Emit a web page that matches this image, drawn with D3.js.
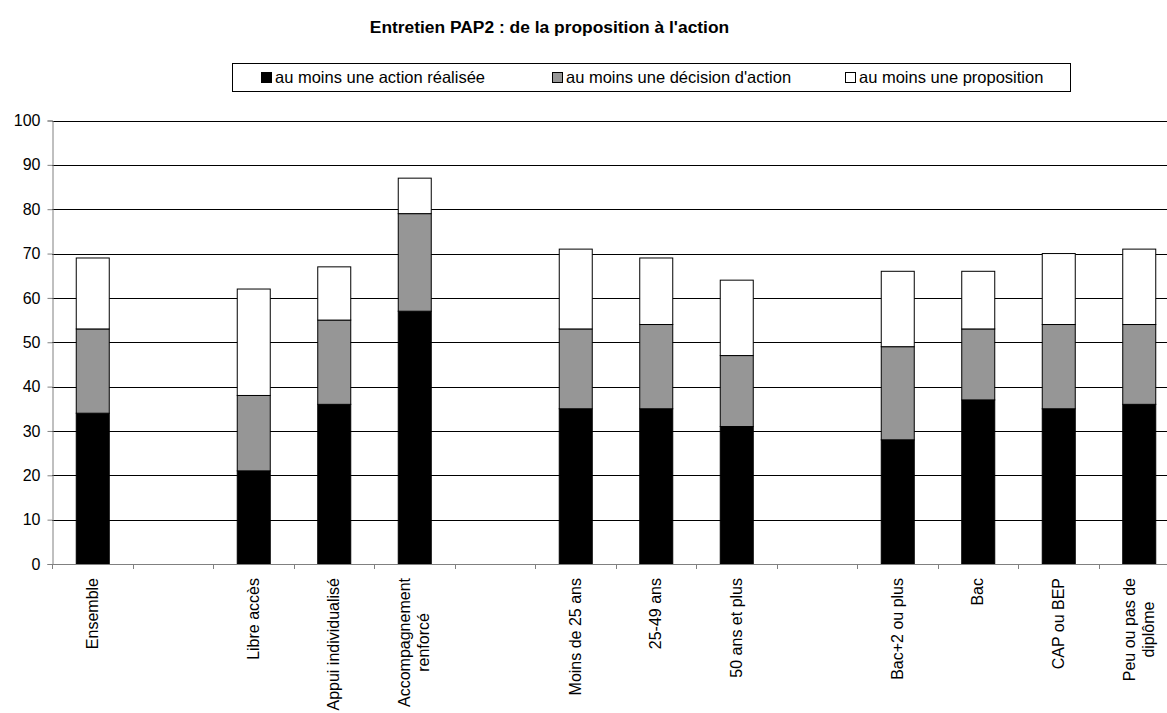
<!DOCTYPE html>
<html>
<head>
<meta charset="utf-8">
<script src="https://cdn.jsdelivr.net/npm/d3@7"></script>
<style>
  html, body { margin: 0; padding: 0; background: #fff; }
  svg { display: block; font-family: "Liberation Sans", Arial, sans-serif; }
</style>
</head>
<body>
<svg id="chart" width="1167" height="713"></svg>
<script>
// Categories (empty strings are spacer slots between groups)
const categories = [
  "Ensemble", "", "Libre accès", "Appui individualisé", "Accompagnement\nrenforcé", "",
  "Moins de 25 ans", "25-49 ans", "50 ans et plus", "",
  "Bac+2 ou plus", "Bac", "CAP ou BEP", "Peu ou pas de\ndiplôme"
];
// Cumulative shares (%) — each level includes the one below it
const actionRealisee = [34, null, 21, 36, 57, null, 35, 35, 31, null, 28, 37, 35, 36];
const decisionAction = [53, null, 38, 55, 79, null, 53, 54, 47, null, 49, 53, 54, 54];
const proposition    = [69, null, 62, 67, 87, null, 71, 69, 64, null, 66, 66, 70, 71];

const seriesNames = ["au moins une action réalisée", "au moins une décision d'action", "au moins une proposition"];
const seriesColors = ["#000000", "#969696", "#ffffff"];
const yTicks = [0, 10, 20, 30, 40, 50, 60, 70, 80, 90, 100];
const title = "Entretien PAP2 : de la proposition à l'action";

const svg = d3.select("#chart");
const plotLeft = 52, plotRight = 1179, plotTop = 120.5, plotBottom = 564;

const x = d3.scaleBand()
  .domain(d3.range(categories.length))
  .range([plotLeft, plotRight])
  .paddingInner(0.59)
  .paddingOuter(0.295);
const slot = d3.scaleLinear().domain([0, categories.length]).range([plotLeft, plotRight]);
const y = d3.scaleLinear().domain([0, 100]).range([plotBottom, plotTop]);

// Title
svg.append("text")
  .attr("x", 549.5).attr("y", 33)
  .attr("text-anchor", "middle")
  .attr("font-size", 17.4).attr("font-weight", "bold")
  .text(title);

// Gridlines
svg.append("g")
  .selectAll("line")
  .data(yTicks.filter(d => d > 0))
  .join("line")
  .attr("x1", plotLeft).attr("x2", plotRight)
  .attr("y1", d => Math.round(y(d)) + 0.5).attr("y2", d => Math.round(y(d)) + 0.5)
  .attr("stroke", "#000").attr("stroke-width", 1);

// Stacked bars
const series = [actionRealisee, decisionAction, proposition];
series.forEach((vals, si) => {
  svg.append("g")
    .selectAll("rect")
    .data(vals.map((v, i) => ({ i, v, lo: si === 0 ? 0 : series[si - 1][i] })).filter(d => d.v != null))
    .join("rect")
    .attr("x", d => x(d.i) + 0.5)
    .attr("width", x.bandwidth())
    .attr("y", d => y(d.v))
    .attr("height", d => y(d.lo) - y(d.v))
    .attr("fill", seriesColors[si])
    .attr("stroke", "#000").attr("stroke-width", 1);
});

// Y axis
const yAxis = svg.append("g")
  .attr("transform", `translate(${plotLeft + 0.5},0)`)
  .call(d3.axisLeft(y).tickValues(yTicks).tickSize(5).tickPadding(7).tickFormat(d3.format("d")));
yAxis.select(".domain").attr("stroke", "#808080");
yAxis.selectAll(".tick line").attr("stroke", "#808080");
yAxis.selectAll(".tick text").attr("font-size", 16).attr("fill", "#000")
  .attr("font-family", "Liberation Sans, Arial, sans-serif");

// X axis line and slot ticks
const xAxis = svg.append("g");
xAxis.append("line")
  .attr("x1", plotLeft).attr("x2", plotRight)
  .attr("y1", plotBottom + 0.5).attr("y2", plotBottom + 0.5)
  .attr("stroke", "#808080");
xAxis.selectAll("line.tk")
  .data(d3.range(categories.length + 1))
  .join("line").attr("class", "tk")
  .attr("x1", d => Math.round(slot(d)) + 0.5).attr("x2", d => Math.round(slot(d)) + 0.5)
  .attr("y1", plotBottom).attr("y2", plotBottom + 5)
  .attr("stroke", "#808080");

// Rotated category labels
const labelTop = 578, lineGap = 19;
categories.forEach((c, i) => {
  if (!c) return;
  const lines = c.split("\n");
  const cx = x(i) + x.bandwidth() / 2;
  const g = svg.append("g").attr("transform", `translate(${cx},${labelTop}) rotate(-90)`);
  const t = g.selectAll("text").data(lines).join("text")
    .attr("font-size", 16)
    .attr("y", (d, k) => (k - (lines.length - 1) / 2) * lineGap)
    .attr("dy", "0.35em")
    .text(d => d);
  // lines are centred on each other, block hangs from the axis
  const w = d3.max(t.nodes(), n => n.getComputedTextLength());
  t.attr("text-anchor", "middle").attr("x", -w / 2);
});

// Legend
const legend = svg.append("g");
legend.append("rect")
  .attr("x", 232.5).attr("y", 63.5).attr("width", 838).attr("height", 28)
  .attr("fill", "#fff").attr("stroke", "#000");
const legendX = [261, 552, 845];
seriesNames.forEach((name, i) => {
  legend.append("rect")
    .attr("x", legendX[i] + 0.5).attr("y", 72.5).attr("width", 10).attr("height", 10)
    .attr("fill", seriesColors[i]).attr("stroke", "#000");
  legend.append("text")
    .attr("x", legendX[i] + 14).attr("y", 83)
    .attr("font-size", 16.5)
    .text(name);
});
</script>
</body>
</html>
